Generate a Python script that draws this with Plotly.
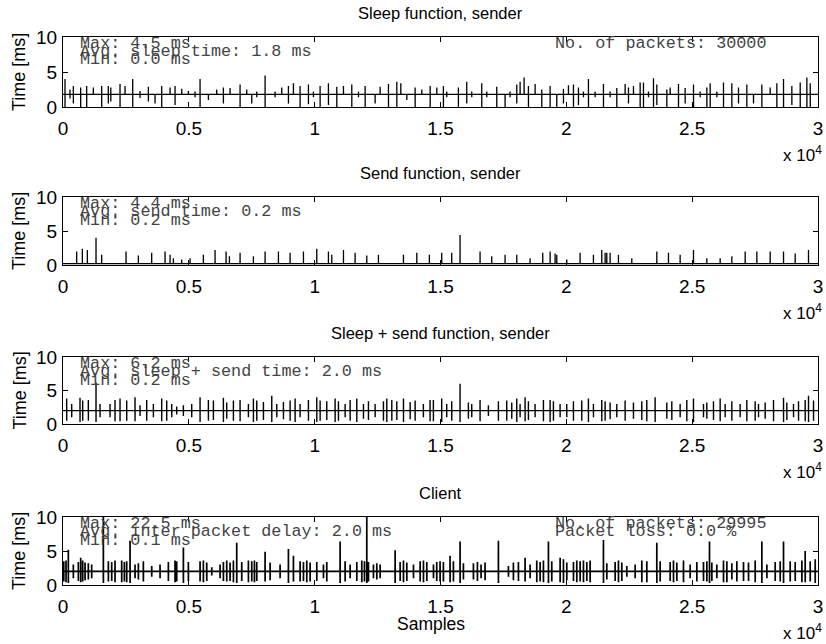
import plotly.graph_objects as go

W, H = 826, 644
N_SAMPLES = 30000

# ---- Sleep function, sender: baseline and spikes (sample, high, low) ----
sleep_base = 1.8
sleep_at = [80, 278, 411, 702, 941, 1206, 1537, 1800, 1900, 2266, 2465, 2770, 3061, 3392, 3657,
            3922, 4254, 4452, 4717, 4982, 5247, 5446, 5777, 6108, 6373, 6638, 7036, 7301, 7500,
            7698, 8030, 8427, 8692, 8957, 9156, 9421, 9752, 9951, 10216, 10547, 10879, 11144,
            11475, 11740, 12005, 12402, 12601, 12932, 13264, 13423, 13661, 13992, 14257, 14589,
            14854, 15115, 15248, 15711, 16043, 16241, 16639, 16838, 17235, 17566, 17765, 18030,
            18163, 18322, 18494, 18759, 19024, 19355, 19620, 19885, 20084, 20283, 20481, 20680,
            20879, 21144, 21475, 21740, 22005, 22336, 22469, 22668, 22933, 23065, 23264, 23463,
            23595, 23993, 24125, 24456, 24721, 25053, 25318, 25583, 25715, 25980, 26245, 26576,
            26841, 27172, 27437, 27769, 28100, 28365, 28630, 28961, 29293, 29558, 29691]
sleep_hi = [4.0, 2.5, 3.0, 2.8, 3.0, 2.8, 3.0, 3.0, 2.8, 3.3, 3.0, 4.0, 2.3, 2.9, 1.8,
            3.0, 2.8, 3.0, 2.6, 2.3, 2.2, 4.0, 1.8, 2.5, 2.8, 2.7, 3.2, 2.5, 1.8,
            2.2, 4.5, 2.2, 2.8, 3.0, 3.4, 3.0, 3.2, 2.2, 3.0, 3.4, 2.9, 3.0,
            3.2, 2.2, 3.0, 1.8, 2.9, 3.3, 3.6, 3.4, 1.8, 2.8, 2.5, 3.0,
            2.8, 3.0, 2.2, 2.8, 3.6, 2.2, 3.4, 2.2, 2.9, 1.8, 2.2, 3.2,
            3.6, 4.2, 3.0, 3.3, 2.5, 3.0, 1.8, 2.6, 3.1, 3.2, 2.8, 2.2,
            4.0, 2.2, 3.3, 2.2, 2.7, 3.3, 2.8, 3.0, 3.5, 3.5, 2.2, 4.1,
            3.2, 2.5, 2.8, 3.3, 2.7, 3.2, 2.2, 2.8, 3.4, 2.2, 3.5, 3.4,
            2.8, 3.2, 1.8, 3.2, 2.8, 3.4, 4.0, 3.0, 3.5, 4.2, 3.4]
sleep_lo = [0.0, 1.2, 0.5, 0.0, 0.0, 1.8, 0.0, 0.5, 0.8, 0.0, 1.8, 0.0, 1.3, 0.8, 0.5,
            0.0, 1.8, 0.3, 1.8, 1.8, 1.4, 0.0, 1.0, 1.8, 0.5, 1.8, 0.0, 1.8, 0.5,
            1.4, 0.0, 1.4, 1.8, 0.5, 1.8, 0.0, 0.4, 1.4, 0.0, 0.3, 0.0, 1.8,
            0.0, 1.4, 0.0, 0.5, 1.8, 0.0, 0.0, 1.8, 1.0, 0.0, 1.8, 0.0,
            1.8, 0.0, 1.4, 0.0, 0.5, 1.4, 0.0, 1.4, 0.0, 0.0, 1.4, 0.5,
            1.8, 1.8, 0.0, 1.8, 0.0, 0.0, 0.0, 0.5, 1.8, 0.0, 0.3, 1.4,
            0.0, 1.4, 0.0, 1.4, 0.0, 1.8, 0.5, 1.8, 0.0, 0.0, 1.4, 0.0,
            0.3, 0.0, 1.8, 0.0, 0.5, 0.0, 1.4, 0.0, 0.0, 1.4, 0.0, 0.0,
            0.5, 0.0, 0.5, 0.0, 1.8, 0.0, 0.0, 0.3, 0.0, 0.0, 0.0]

# ---- Send function, sender: baseline and upward spikes ----
send_base = 0.2
send_at = [543, 769, 968, 1312, 1537, 2505, 2995, 3524, 4055, 4254, 4386, 4717, 5048, 5578,
           6042, 6480, 6612, 7036, 7566, 8030, 8560, 9024, 9554, 10084, 10547, 10680, 11144,
           11607, 12071, 12534, 13528, 14058, 14558, 15048, 15446, 15777, 16572, 17036, 17566,
           18030, 18560, 19063, 19355, 19553, 19620, 20017, 20547, 21077, 21408, 21541, 21607,
           21740, 22071, 22601, 23595, 24058, 24522, 25052, 25582, 26112, 26576, 27106, 27570,
           28100, 28630, 29093, 29623]
send_hi = [2.0, 2.4, 2.2, 4.0, 1.5, 2.0, 1.4, 1.8, 2.0, 1.5, 1.0, 0.8, 1.0, 1.5,
           2.2, 2.0, 1.3, 1.8, 1.3, 2.0, 2.0, 1.8, 2.0, 2.4, 2.0, 1.5, 2.2,
           1.8, 1.4, 1.5, 1.5, 1.8, 1.5, 1.8, 1.8, 4.4, 2.0, 1.3, 1.5,
           1.5, 1.0, 1.8, 2.0, 1.7, 1.5, 0.8, 1.8, 1.5, 2.2, 1.8, 1.8,
           1.8, 1.5, 1.0, 2.0, 1.8, 1.5, 2.2, 1.0, 1.0, 1.3, 2.0, 2.0,
           2.0, 2.0, 1.7, 2.2]

# ---- Sleep + send function, sender ----
both_base = 2.0
both_at = [146, 345, 676, 782, 1007, 1312, 1471, 1869, 2067, 2266, 2531, 2862, 3061, 3326,
           3591, 3922, 4121, 4320, 4518, 4783, 5114, 5446, 5777, 5976, 6373, 6506, 6771, 7036,
           7367, 7566, 7699, 7964, 8295, 8494, 8759, 9024, 9223, 9421, 9752, 10084, 10216,
           10481, 10812, 10945, 11210, 11409, 11674, 11939, 12137, 12402, 12733, 12866, 13065,
           13264, 13529, 13794, 13992, 14320, 14585, 14717, 15048, 15247, 15446, 15777, 16108,
           16241, 16572, 16903, 17301, 17632, 17831, 18030, 18162, 18361, 18493, 18758, 19090,
           19355, 19487, 19752, 20017, 20282, 20613, 20878, 21077, 21408, 21541, 21740, 22005,
           22336, 22667, 22998, 23197, 23528, 23992, 24191, 24522, 24787, 25052, 25450, 25582,
           25847, 26112, 26311, 26576, 26907, 27172, 27503, 27636, 27901, 28232, 28630, 28762,
           29027, 29226, 29491, 29623, 29822]
both_hi = [3.8, 3.0, 3.9, 3.5, 3.6, 6.2, 3.0, 3.0, 3.6, 3.8, 3.5, 4.0, 2.8, 3.6,
           3.0, 3.8, 3.5, 3.0, 2.6, 2.8, 3.0, 4.0, 3.6, 3.5, 3.9, 3.2, 3.5, 3.6,
           3.0, 3.8, 3.5, 3.3, 4.2, 3.0, 3.3, 3.5, 3.8, 3.0, 3.6, 4.0, 3.5,
           3.4, 3.8, 3.4, 3.0, 3.6, 3.8, 3.0, 3.4, 3.0, 3.4, 3.8, 3.6,
           3.4, 3.8, 3.3, 3.5, 3.0, 3.6, 3.6, 3.8, 3.0, 3.4, 6.0, 3.2,
           3.0, 3.6, 2.8, 3.4, 3.5, 3.2, 3.8, 3.0, 4.0, 3.4, 3.0, 3.6,
           3.6, 3.4, 3.0, 3.0, 3.4, 3.5, 3.8, 3.0, 3.6, 3.4, 3.2, 3.0,
           3.5, 3.2, 3.4, 3.6, 4.0, 3.2, 3.4, 3.0, 3.6, 3.8, 3.0, 3.2,
           3.4, 3.8, 3.0, 3.4, 3.0, 3.6, 3.4, 3.0, 3.2, 3.6, 3.9, 3.2,
           3.0, 3.4, 3.6, 4.2, 3.5]
both_lo = [0.5, 1.0, 0.3, 0.5, 0.5, 0.3, 1.0, 1.0, 0.4, 0.4, 0.5, 0.4, 1.2, 0.5,
           1.0, 0.4, 0.5, 1.0, 1.4, 1.2, 1.0, 0.3, 0.5, 0.6, 0.3, 0.8, 0.5, 0.4,
           1.0, 0.3, 0.5, 0.6, 0.3, 1.0, 0.7, 0.5, 0.3, 1.0, 0.5, 0.3, 0.5,
           0.6, 0.3, 0.5, 1.0, 0.5, 0.3, 0.8, 0.6, 1.0, 0.5, 0.3, 0.5,
           0.6, 0.3, 0.7, 0.5, 1.0, 0.4, 0.4, 0.3, 1.0, 0.5, 0.3, 0.8,
           1.0, 0.4, 1.2, 0.5, 0.5, 0.8, 0.3, 1.0, 0.4, 0.6, 1.0, 0.4,
           0.3, 0.5, 1.0, 1.0, 0.5, 0.5, 0.3, 1.0, 0.4, 0.5, 0.7, 1.0,
           0.5, 0.8, 0.6, 0.4, 0.3, 0.8, 0.6, 1.0, 0.4, 0.3, 1.0, 0.8,
           0.6, 0.4, 1.0, 0.5, 1.0, 0.4, 0.5, 1.0, 0.8, 0.4, 0.3, 0.6,
           1.0, 0.5, 0.4, 0.3, 0.5]

# ---- Client: inter packet delay ----
client_base = 2.0
client_at = [30, 120, 212, 411, 610, 703, 782, 875, 1007, 1140, 1604, 1802, 1935, 2067, 2332,
             2438, 2531, 2664, 2862, 2995, 3193, 3525, 3856, 4187, 4452, 4518, 4784, 4982,
             5446, 5578, 5711, 5910, 6241, 6373, 6506, 6638, 6771, 6903, 7102, 7367, 7500,
             7606, 7699, 8030, 8229, 8626, 8957, 9156, 9421, 9554, 9686, 9819, 10084, 10349,
             10481, 11011, 11210, 11409, 11674, 11872, 11978, 12071, 12137, 12336, 12469,
             12601, 13197, 13396, 13528, 13661, 13926, 14191, 14323, 14456, 14721, 14850,
             14983, 15115, 15380, 15513, 15778, 15910, 16308, 16467, 16612, 16771, 17301,
             17699, 17897, 18096, 18361, 18560, 18825, 18958, 19090, 19289, 19421, 19753,
             19885, 20018, 20283, 20415, 20548, 20680, 20813, 20945, 21475, 21608, 21939,
             22071, 22204, 22403, 22734, 22999, 23198, 23595, 23728, 24125, 24258, 24390,
             24655, 24920, 25185, 25450, 25583, 25689, 25781, 25980, 26245, 26378, 26576,
             26775, 27040, 27239, 27504, 27769, 27968, 28299, 28498, 28630, 28895, 29094,
             29359, 29491, 29690, 29889]
client_hi = [3.5, 3.6, 5.2, 3.0, 3.4, 4.0, 3.6, 3.3, 3.2, 3.0, 22.5, 3.5, 3.4, 3.6, 3.6,
             3.4, 3.5, 6.5, 3.0, 3.2, 3.5, 2.8, 3.0, 3.4, 3.6, 3.5, 5.5, 3.4,
             3.5, 3.6, 3.3, 2.6, 3.0, 3.4, 3.6, 3.3, 3.6, 6.2, 3.4, 3.6, 3.5,
             3.6, 3.4, 4.9, 3.3, 3.0, 5.3, 4.3, 3.5, 3.4, 3.6, 3.3, 3.4, 3.0,
             3.4, 6.4, 3.5, 3.0, 3.4, 3.6, 3.5, 12.0, 3.4, 3.0, 3.2,
             3.0, 5.1, 3.4, 3.6, 3.3, 3.0, 3.5, 3.6, 3.4, 3.0, 3.4,
             3.5, 3.4, 4.3, 3.5, 6.4, 3.2, 3.2, 3.4, 3.0, 3.3, 6.5,
             2.8, 3.3, 3.4, 4.0, 3.0, 3.6, 3.4, 3.6, 6.4, 3.5, 4.0,
             3.8, 3.3, 3.4, 3.6, 3.5, 3.6, 3.4, 3.6, 6.6, 3.2, 3.4,
             3.6, 3.3, 2.8, 3.0, 3.6, 3.5, 6.2, 3.5, 3.4, 3.6, 3.3,
             3.6, 3.0, 3.4, 3.4, 3.5, 6.4, 3.3, 3.0, 3.6, 3.5, 3.2,
             3.5, 3.4, 3.3, 3.6, 6.4, 3.0, 3.4, 3.5, 6.4, 3.5, 3.4,
             3.6, 5.0, 3.5, 3.8]
client_lo = [0.5, 0.4, 0.3, 1.0, 0.6, 0.4, 0.5, 0.7, 0.8, 1.0, 0.3, 0.5, 0.6, 0.4, 0.4,
             0.5, 0.4, 0.3, 1.0, 0.8, 0.5, 1.2, 1.0, 0.6, 0.4, 0.5, 0.3, 0.6,
             0.5, 0.4, 0.6, 1.4, 1.0, 0.6, 0.5, 0.6, 0.4, 0.3, 0.6, 0.4, 0.5,
             0.4, 0.6, 0.5, 0.7, 1.0, 0.3, 0.5, 0.5, 0.6, 0.4, 0.5, 0.6, 1.0,
             0.5, 0.3, 0.5, 1.0, 0.6, 0.4, 0.5, 0.3, 0.5, 1.0, 0.8,
             1.0, 0.3, 0.6, 0.4, 0.6, 1.0, 0.5, 0.4, 0.6, 1.0, 0.6,
             0.5, 0.5, 0.4, 0.5, 0.3, 0.8, 0.8, 0.6, 1.0, 0.7, 0.3,
             1.2, 0.7, 0.6, 0.5, 1.0, 0.4, 0.5, 0.4, 0.3, 0.5, 0.4,
             0.3, 0.7, 0.6, 0.4, 0.5, 0.4, 0.6, 0.4, 0.3, 0.8, 0.6,
             0.4, 0.6, 1.2, 1.0, 0.4, 0.4, 0.3, 0.5, 0.6, 0.4, 0.6,
             0.4, 1.0, 0.5, 0.6, 0.5, 0.3, 0.6, 1.0, 0.4, 0.4, 0.8,
             0.5, 0.6, 0.6, 0.4, 0.3, 1.0, 0.6, 0.5, 0.3, 0.5, 0.6,
             0.4, 0.4, 0.5, 0.3]

panel_titles = ["Sleep function, sender", "Send function, sender",
                "Sleep + send function, sender", "Client"]
stat_lines = [
    ["Max: 4.5 ms", "Avg. sleep time: 1.8 ms", "Min: 0.0 ms"],
    ["Max: 4.4 ms", "Avg. send time: 0.2 ms", "Min: 0.2 ms"],
    ["Max: 6.2 ms", "Avg. sleep + send time: 2.0 ms", "Min: 0.2 ms"],
    ["Max: 22.5 ms", "Avg. inter packet delay: 2.0 ms", "Min: 0.1 ms"],
]
packet_lines = [["No. of packets: 30000"], [], [], ["No. of packets: 29995", "Packet loss: 0.0 %"]]

x_tick_vals = [0, 5000, 10000, 15000, 20000, 25000, 30000]
x_tick_text = ["0", "0.5", "1", "1.5", "2", "2.5", "3"]
y_tick_vals = [0, 5, 10]

# pixel layout of the four panels (top, bottom) and the common left/right edges
PLOT_L, PLOT_R = 63, 818
PANELS_PX = [(37, 107), (197, 265), (357, 424), (517, 585)]
LINE_WIDTHS = [1.3, 1.3, 1.4, 1.7]


def px_x(x):
    return x / W


def px_y(y):
    return 1 - y / H


def spike_line(at, hi, lo, base):
    lo = lo if lo is not None else [base] * len(at)
    xs, ys = [0], [base]
    for p, h, l in sorted(zip(at, hi, lo)):
        xs += [p - 1, p, p + 1, p + 2]
        ys += [base, h, l, base]
    xs.append(N_SAMPLES - 1)
    ys.append(base)
    return xs, ys


series = [
    spike_line(sleep_at, sleep_hi, sleep_lo, sleep_base),
    spike_line(send_at, send_hi, None, send_base),
    spike_line(both_at, both_hi, both_lo, both_base),
    spike_line(client_at, client_hi, client_lo, client_base),
]

fig = go.Figure()
annotations = []
SANS = "Liberation Sans, Arial, Helvetica, sans-serif"
MONO = "Liberation Mono, Courier New, monospace"

for i, ((xs, ys), (top, bot)) in enumerate(zip(series, PANELS_PX)):
    k = "" if i == 0 else str(i + 1)
    fig.add_trace(go.Scatter(x=xs, y=ys, mode="lines", xaxis="x" + k, yaxis="y" + k,
                             line=dict(color="black", width=LINE_WIDTHS[i]), showlegend=False,
                             hoverinfo="skip"))
    common = dict(showline=True, linecolor="black", linewidth=1, mirror="ticks",
                  ticks="inside", ticklen=5, tickcolor="black", tickwidth=1,
                  showgrid=False, zeroline=False, automargin=False,
                  tickfont=dict(family=SANS, size=19, color="black"))
    fig.update_layout(**{
        "xaxis" + k: dict(common, domain=[px_x(PLOT_L), px_x(PLOT_R)], range=[0, N_SAMPLES],
                          tickvals=x_tick_vals, ticktext=x_tick_text, anchor="y" + k,
                          ticklabelstandoff=4),
        "yaxis" + k: dict(common, domain=[px_y(bot), px_y(top)], range=[0, 10],
                          tickvals=y_tick_vals, anchor="x" + k, ticklabelstandoff=1),
    })
    # panel title
    annotations.append(dict(text=panel_titles[i], x=px_x((PLOT_L + PLOT_R) / 2), y=px_y(top - 24),
                            xref="paper", yref="paper", showarrow=False, xanchor="center",
                            yanchor="middle", font=dict(family=SANS, size=16.5, color="black")))
    # y axis label
    annotations.append(dict(text="Time [ms]", x=px_x(19), y=px_y((top + bot) / 2),
                            xref="paper", yref="paper", showarrow=False, textangle=-90,
                            xanchor="center", yanchor="middle",
                            font=dict(family=SANS, size=18, color="black")))
    # exponent note under the x axis
    annotations.append(dict(text="x 10<sup>4</sup>", x=px_x(824), y=px_y(bot + 47),
                            xref="paper", yref="paper", showarrow=False, xanchor="right",
                            yanchor="middle", font=dict(family=SANS, size=17, color="black")))
    # statistics text
    for j, line in enumerate(stat_lines[i]):
        annotations.append(dict(text=line, x=px_x(78), y=px_y(top + 6 + 8.5 * j),
                                xref="paper", yref="paper", showarrow=False, xanchor="left",
                                yanchor="middle", font=dict(family=MONO, size=16.8, color="#444")))
    for j, line in enumerate(packet_lines[i]):
        annotations.append(dict(text=line, x=px_x(553), y=px_y(top + 6 + 8.5 * j),
                                xref="paper", yref="paper", showarrow=False, xanchor="left",
                                yanchor="middle", font=dict(family=MONO, size=16.8, color="#444")))

annotations.append(dict(text="Samples", x=px_x(PLOT_L + (PLOT_R - PLOT_L) / 2 - 9), y=px_y(624),
                        xref="paper", yref="paper", showarrow=False, xanchor="center",
                        yanchor="middle", font=dict(family=SANS, size=17.5, color="black")))

fig.update_layout(width=W, height=H, margin=dict(l=0, r=0, t=0, b=0),
                  paper_bgcolor="white", plot_bgcolor="white", annotations=annotations,
                  showlegend=False)

fig.write_html("out.html")
